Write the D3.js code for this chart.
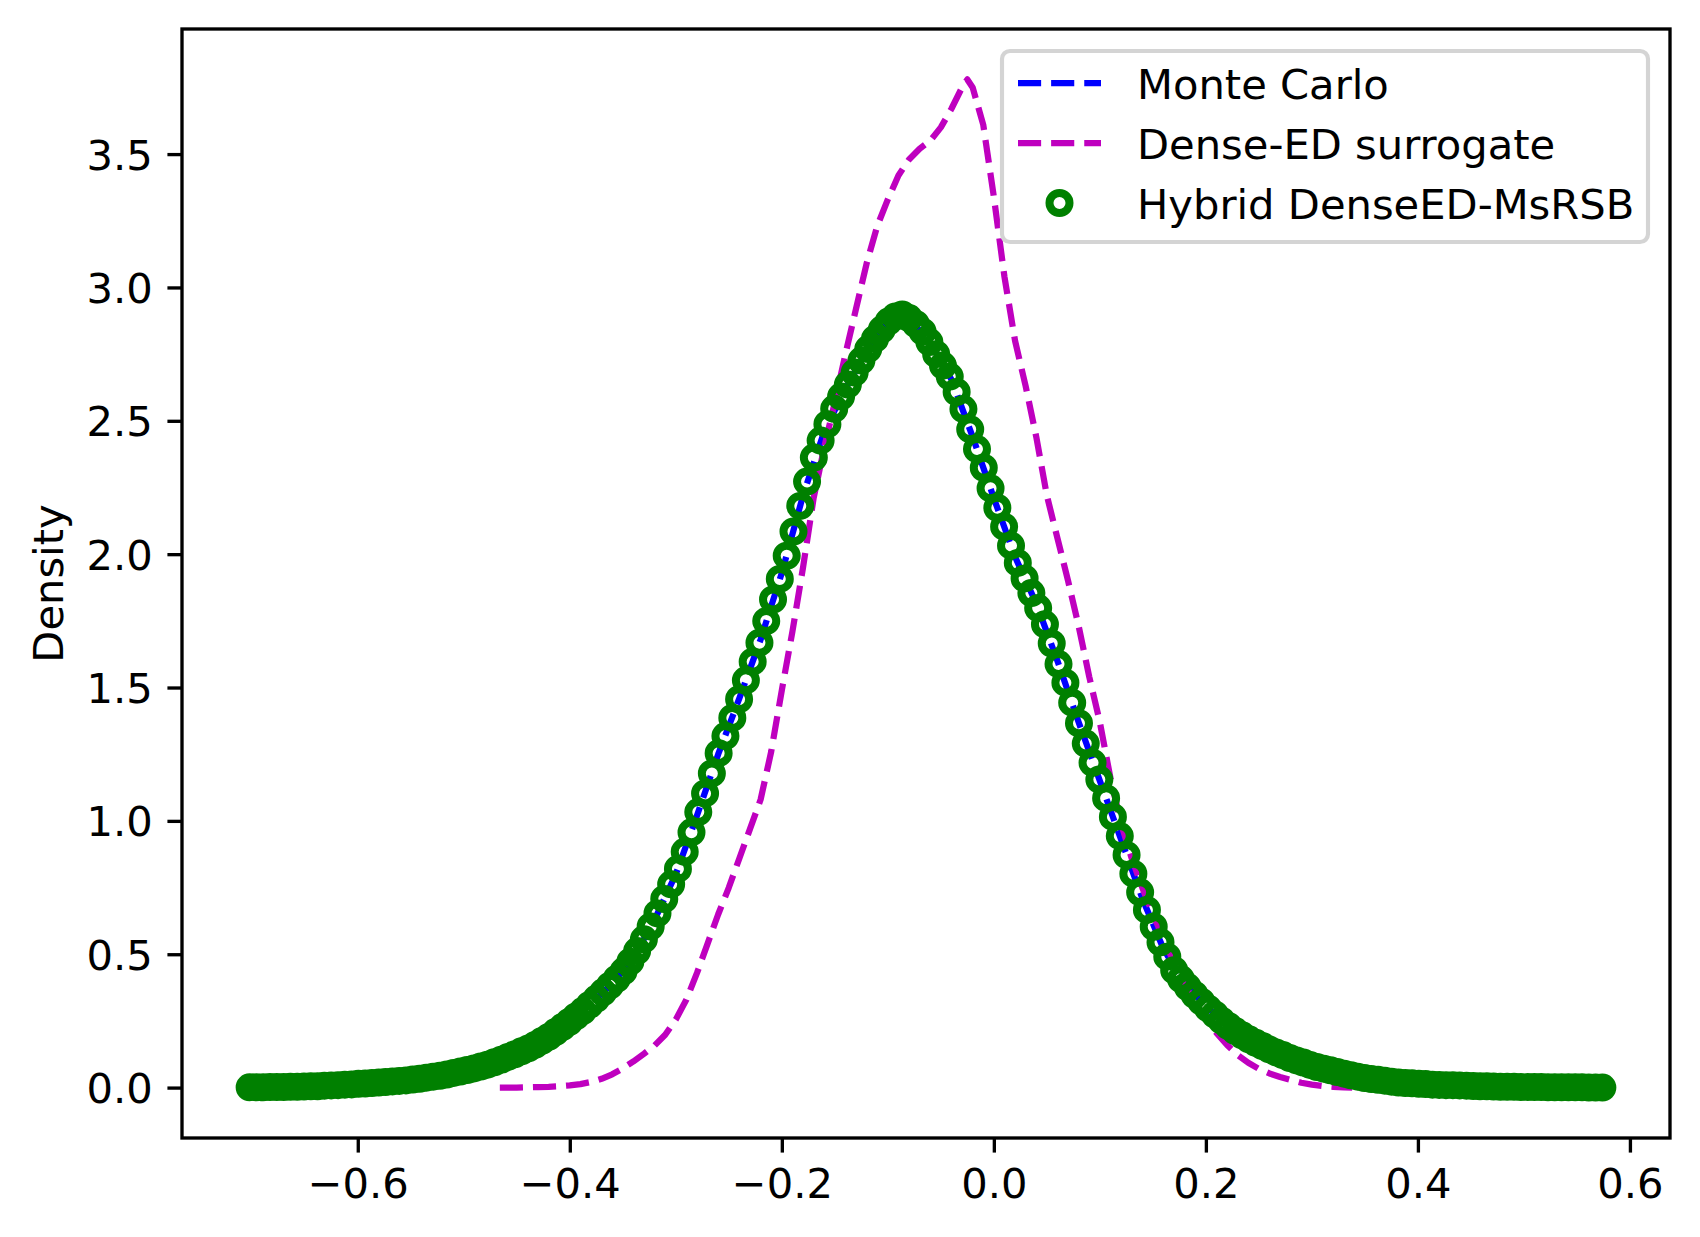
<!DOCTYPE html>
<html>
<head>
<meta charset="utf-8">
<script src="https://cdn.jsdelivr.net/npm/d3@7/dist/d3.min.js"></script>
<style>
  html, body { margin: 0; padding: 0; background: #ffffff; }
  svg { display: block; }
  text { font-family: "DejaVu Sans", sans-serif; fill: #000; }
</style>
</head>
<body>
<svg id="chart" width="1700" height="1237"></svg>
<script>
// ---------------- DATA ----------------
const seriesNames = ["Monte Carlo", "Dense-ED surrogate", "Hybrid DenseED-MsRSB"];

const hybridX = [
-0.7020,-0.6956,-0.6892,-0.6828,-0.6764,-0.6699,-0.6635,-0.6571,-0.6507,-0.6443,
-0.6379,-0.6315,-0.6251,-0.6186,-0.6122,-0.6058,-0.5994,-0.5930,-0.5866,-0.5802,
-0.5738,-0.5673,-0.5609,-0.5545,-0.5481,-0.5417,-0.5353,-0.5289,-0.5225,-0.5160,
-0.5096,-0.5032,-0.4968,-0.4904,-0.4840,-0.4776,-0.4712,-0.4647,-0.4583,-0.4519,
-0.4455,-0.4391,-0.4327,-0.4263,-0.4199,-0.4135,-0.4070,-0.4006,-0.3942,-0.3878,
-0.3814,-0.3750,-0.3686,-0.3622,-0.3557,-0.3493,-0.3429,-0.3365,-0.3301,-0.3237,
-0.3173,-0.3109,-0.3044,-0.2980,-0.2916,-0.2852,-0.2788,-0.2724,-0.2660,-0.2596,
-0.2532,-0.2467,-0.2403,-0.2339,-0.2275,-0.2211,-0.2147,-0.2083,-0.2019,-0.1954,
-0.1890,-0.1826,-0.1762,-0.1698,-0.1634,-0.1570,-0.1506,-0.1441,-0.1377,-0.1313,
-0.1249,-0.1185,-0.1121,-0.1057,-0.0993,-0.0929,-0.0864,-0.0800,-0.0736,-0.0672,
-0.0608,-0.0544,-0.0480,-0.0416,-0.0351,-0.0287,-0.0223,-0.0159,-0.0095,-0.0031,
0.0033,0.0097,0.0162,0.0226,0.0290,0.0354,0.0418,0.0482,0.0546,0.0610,
0.0675,0.0739,0.0803,0.0867,0.0931,0.0995,0.1059,0.1123,0.1188,0.1252,
0.1316,0.1380,0.1444,0.1508,0.1572,0.1636,0.1701,0.1765,0.1829,0.1893,
0.1957,0.2021,0.2085,0.2149,0.2213,0.2278,0.2342,0.2406,0.2470,0.2534,
0.2598,0.2662,0.2726,0.2791,0.2855,0.2919,0.2983,0.3047,0.3111,0.3175,
0.3239,0.3304,0.3368,0.3432,0.3496,0.3560,0.3624,0.3688,0.3752,0.3817,
0.3881,0.3945,0.4009,0.4073,0.4137,0.4201,0.4265,0.4330,0.4394,0.4458,
0.4522,0.4586,0.4650,0.4714,0.4778,0.4842,0.4907,0.4971,0.5035,0.5099,
0.5163,0.5227,0.5291,0.5355,0.5420,0.5484,0.5548,0.5612,0.5676,0.5740
];
const hybridY = [
0.001,0.001,0.001,0.002,0.002,0.002,0.003,0.003,0.004,0.005,
0.005,0.007,0.008,0.009,0.011,0.012,0.014,0.015,0.017,0.019,
0.021,0.023,0.025,0.027,0.030,0.033,0.037,0.041,0.044,0.049,
0.055,0.060,0.066,0.072,0.079,0.086,0.095,0.104,0.115,0.125,
0.136,0.147,0.160,0.175,0.190,0.208,0.227,0.246,0.267,0.287,
0.310,0.333,0.357,0.382,0.408,0.436,0.472,0.512,0.556,0.604,
0.653,0.707,0.762,0.820,0.884,0.957,1.033,1.103,1.178,1.254,
1.318,1.386,1.456,1.527,1.597,1.668,1.749,1.830,1.907,1.994,
2.085,2.181,2.272,2.362,2.426,2.487,2.545,2.591,2.636,2.681,
2.726,2.769,2.807,2.842,2.872,2.891,2.899,2.885,2.863,2.834,
2.795,2.750,2.707,2.666,2.608,2.544,2.468,2.394,2.324,2.247,
2.174,2.103,2.032,1.967,1.909,1.854,1.798,1.737,1.665,1.588,
1.518,1.443,1.366,1.290,1.218,1.155,1.085,1.015,0.943,0.872,
0.802,0.732,0.666,0.603,0.545,0.491,0.440,0.407,0.377,0.348,
0.322,0.297,0.274,0.251,0.231,0.212,0.196,0.181,0.168,0.156,
0.143,0.132,0.122,0.111,0.102,0.094,0.085,0.077,0.071,0.065,
0.058,0.052,0.046,0.041,0.036,0.032,0.029,0.026,0.022,0.019,
0.017,0.016,0.014,0.013,0.011,0.010,0.009,0.009,0.008,0.007,
0.006,0.005,0.005,0.004,0.003,0.003,0.003,0.002,0.002,0.002,
0.002,0.001,0.001,0.001,0.001,0.001,0.001,0.000,0.000,0.000
];

const monteCarloX = [
-0.70,-0.68,-0.66,-0.64,-0.62,-0.60,-0.58,-0.56,-0.54,-0.52,
-0.50,-0.48,-0.46,-0.44,-0.42,-0.40,-0.38,-0.36,-0.34,-0.32,
-0.30,-0.28,-0.26,-0.24,-0.22,-0.20,-0.18,-0.16,-0.14,-0.12,
-0.10,-0.09,-0.08,-0.06,-0.04,-0.02,0.00,0.02,0.04,0.06,
0.08,0.10,0.12,0.14,0.16,0.18,0.20,0.22,0.24,0.26,
0.28,0.30,0.32,0.34,0.36,0.38,0.40,0.42,0.44,0.46,
0.48,0.50,0.52,0.54,0.56
];
const monteCarloY = [
0.001,0.002,0.003,0.005,0.009,0.014,0.019,0.025,0.034,0.046,
0.063,0.083,0.112,0.145,0.190,0.248,0.315,0.390,0.485,0.630,
0.800,1.020,1.250,1.460,1.680,1.930,2.220,2.460,2.620,2.760,
2.870,2.900,2.885,2.790,2.655,2.440,2.210,1.990,1.815,1.600,
1.370,1.150,0.930,0.710,0.520,0.390,0.305,0.235,0.182,0.143,
0.110,0.083,0.062,0.043,0.030,0.020,0.014,0.010,0.008,0.005,
0.003,0.002,0.001,0.001,0.000
];

const denseX = [
-0.466,-0.46,-0.45,-0.44,-0.43,-0.42,-0.41,-0.40,-0.39,-0.38,
-0.37,-0.36,-0.35,-0.34,-0.33,-0.32,-0.31,-0.30,-0.29,-0.28,
-0.27,-0.26,-0.25,-0.24,-0.23,-0.22,-0.21,-0.20,-0.19,-0.18,
-0.17,-0.16,-0.15,-0.14,-0.13,-0.12,-0.11,-0.10,-0.09,-0.08,
-0.07,-0.06,-0.05,-0.04,-0.03,-0.025,-0.02,-0.01,0.00,0.01,
0.02,0.03,0.04,0.05,0.06,0.07,0.08,0.09,0.10,0.11,
0.12,0.13,0.14,0.15,0.16,0.17,0.18,0.19,0.20,0.21,
0.22,0.23,0.24,0.25,0.26,0.27,0.28,0.29,0.30,0.31,
0.32,0.33,0.338
];
const denseY = [
0.000,0.000,0.000,0.001,0.002,0.003,0.005,0.008,0.013,0.021,
0.033,0.050,0.072,0.098,0.127,0.158,0.198,0.255,0.330,0.430,
0.540,0.650,0.750,0.860,0.970,1.080,1.260,1.490,1.710,1.950,
2.210,2.400,2.570,2.750,2.920,3.090,3.230,3.330,3.420,3.480,
3.520,3.550,3.600,3.670,3.750,3.780,3.750,3.610,3.340,3.040,
2.800,2.630,2.440,2.220,2.060,1.900,1.730,1.540,1.370,1.160,
0.990,0.860,0.750,0.650,0.560,0.465,0.385,0.318,0.258,0.205,
0.160,0.122,0.093,0.070,0.053,0.040,0.029,0.018,0.011,0.006,
0.003,0.001,0.000
];

const xTickValues = [-0.6, -0.4, -0.2, 0.0, 0.2, 0.4, 0.6];
const yTickValues = [0.0, 0.5, 1.0, 1.5, 2.0, 2.5, 3.0, 3.5];
const yLabel = "Density";

// ---------------- LAYOUT ----------------
const PT = 300 / 72;              // px per point
const FS = 10 * PT;               // 10pt font
const plot = { left: 182, right: 1670, top: 29, bottom: 1138 };

const allX = hybridX.concat(monteCarloX, denseX);
const allY = hybridY.concat(monteCarloY, denseY);
const xe = d3.extent(allX), ye = d3.extent(allY);
const xm = (xe[1] - xe[0]) * 0.05, ym = (ye[1] - ye[0]) * 0.05;

const x = d3.scaleLinear().domain([xe[0] - xm, xe[1] + xm]).range([plot.left, plot.right]);
const y = d3.scaleLinear().domain([ye[0] - ym, ye[1] + ym]).range([plot.bottom, plot.top]);

const svg = d3.select("#chart");

svg.append("defs").append("clipPath").attr("id", "clip")
  .append("rect")
  .attr("x", plot.left).attr("y", plot.top)
  .attr("width", plot.right - plot.left).attr("height", plot.bottom - plot.top);

const g = svg.append("g").attr("clip-path", "url(#clip)");

const lw = 1.5 * PT;
const dash = (3.7 * lw) + "," + (1.6 * lw);

const line = d3.line().x(d => x(d[0])).y(d => y(d[1]));

g.append("path")
  .datum(monteCarloX.map((v, i) => [v, monteCarloY[i]]))
  .attr("d", line)
  .attr("fill", "none").attr("stroke", "#0000ff")
  .attr("stroke-width", lw).attr("stroke-dasharray", dash)
  .attr("stroke-linejoin", "round");

g.append("path")
  .datum(denseX.map((v, i) => [v, denseY[i]]))
  .attr("d", line)
  .attr("fill", "none").attr("stroke", "#bf00bf")
  .attr("stroke-width", lw).attr("stroke-dasharray", dash)
  .attr("stroke-linejoin", "round");

const markerR = 10, markerW = 8;
g.append("g").selectAll("circle")
  .data(hybridX.map((v, i) => [v, hybridY[i]]))
  .join("circle")
  .attr("cx", d => x(d[0])).attr("cy", d => y(d[1]))
  .attr("r", markerR)
  .attr("fill", "none").attr("stroke", "#008000").attr("stroke-width", markerW);

// ---------------- AXES ----------------
const spineW = 0.8 * PT;
const tickLen = 3.5 * PT;
const tickPad = 3.5 * PT;

const xAxis = d3.axisBottom(x).tickValues(xTickValues)
  .tickSize(tickLen).tickPadding(tickPad)
  .tickFormat(d => d3.format(".1f")(d).replace("-", "\u2212"));
const gx = svg.append("g").attr("transform", `translate(0,${plot.bottom})`).call(xAxis);
gx.select(".domain").remove();
gx.selectAll(".tick line").attr("stroke", "#000").attr("stroke-width", spineW);
gx.selectAll(".tick text").attr("font-size", FS).attr("font-family", "DejaVu Sans")
  .attr("dy", null).attr("y", tickLen + tickPad).attr("dominant-baseline", "hanging");

const yAxis = d3.axisLeft(y).tickValues(yTickValues)
  .tickSize(tickLen).tickPadding(tickPad)
  .tickFormat(d3.format(".1f"));
const gy = svg.append("g").attr("transform", `translate(${plot.left},0)`).call(yAxis);
gy.select(".domain").remove();
gy.selectAll(".tick line").attr("stroke", "#000").attr("stroke-width", spineW);
gy.selectAll(".tick text").attr("font-size", FS).attr("font-family", "DejaVu Sans")
  .attr("dy", "0.36em");

// spines
svg.append("rect")
  .attr("x", plot.left).attr("y", plot.top)
  .attr("width", plot.right - plot.left).attr("height", plot.bottom - plot.top)
  .attr("fill", "none").attr("stroke", "#000").attr("stroke-width", spineW)
  .attr("stroke-linejoin", "miter");

// y label
svg.append("text")
  .attr("transform", `translate(63,${(plot.top + plot.bottom) / 2}) rotate(-90)`)
  .attr("text-anchor", "middle")
  .attr("font-size", FS)
  .text(yLabel);

// ---------------- LEGEND ----------------
const leg = svg.append("g");
leg.append("rect")
  .attr("x", 1002).attr("y", 51).attr("width", 646).attr("height", 191)
  .attr("rx", 8).attr("ry", 8)
  .attr("fill", "#ffffff").attr("fill-opacity", 0.8)
  .attr("stroke", "#d4d4d4").attr("stroke-width", 1.0 * PT);

const rowsBase = [99, 159, 219];
const handleX0 = 1018, handleX1 = 1101, textX = 1137;
const legColors = ["#0000ff", "#bf00bf", "#008000"];

seriesNames.forEach((name, i) => {
  const cy = rowsBase[i] - 16;
  if (i < 2) {
    leg.append("line")
      .attr("x1", handleX0).attr("x2", handleX1).attr("y1", cy).attr("y2", cy)
      .attr("stroke", legColors[i]).attr("stroke-width", lw)
      .attr("stroke-dasharray", dash);
  } else {
    leg.append("circle")
      .attr("cx", (handleX0 + handleX1) / 2).attr("cy", cy).attr("r", markerR)
      .attr("fill", "none").attr("stroke", legColors[i]).attr("stroke-width", markerW);
  }
  leg.append("text")
    .attr("x", textX).attr("y", rowsBase[i])
    .attr("font-size", FS)
    .text(name);
});
</script>
</body>
</html>
